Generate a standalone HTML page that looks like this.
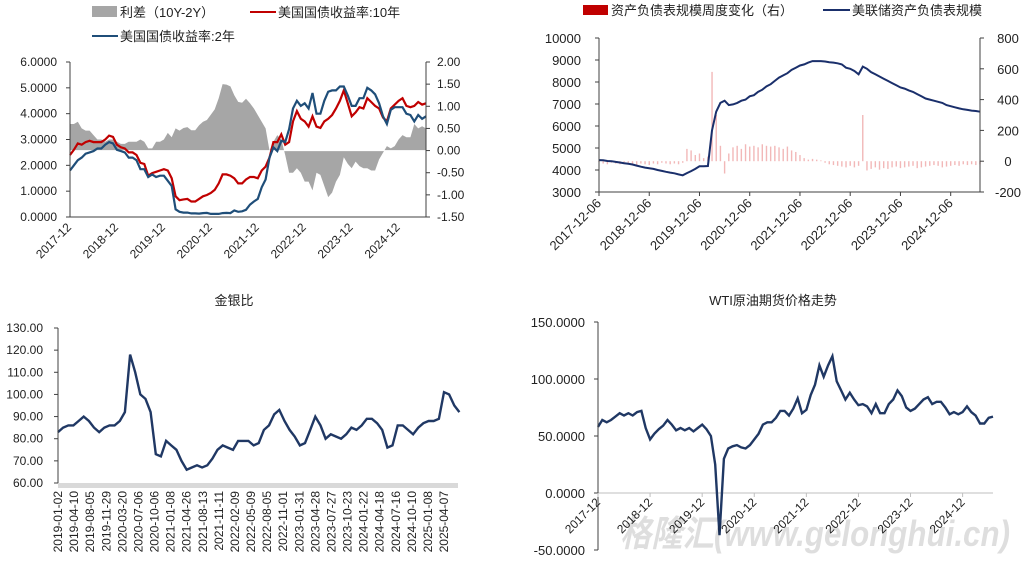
<!DOCTYPE html>
<html><head><meta charset="utf-8"><style>
html,body{margin:0;padding:0;background:#fff}
svg{display:block;font-family:"Liberation Sans","Noto Sans CJK SC",sans-serif}
</style></head><body>
<svg id="s" width="1027" height="563" viewBox="0 0 1027 563" xmlns="http://www.w3.org/2000/svg">
<g id="p1">
 <rect x="92" y="6" width="25" height="11" fill="#a6a6a6"/>
 <text x="120" y="17" font-size="13" fill="#222">利差（10Y-2Y）</text>
 <line x1="250" y1="12" x2="276" y2="12" stroke="#c00000" stroke-width="2"/>
 <text x="278" y="17" font-size="13" fill="#222">美国国债收益率:10年</text>
 <line x1="92" y1="36" x2="118" y2="36" stroke="#1f4e79" stroke-width="2"/>
 <text x="120" y="41" font-size="13" fill="#222">美国国债收益率:2年</text>
</g>
<g id="p2">
 <rect x="583" y="5" width="25" height="10" fill="#c00000"/>
 <text x="611" y="15" font-size="13" fill="#222">资产负债表规模周度变化（右）</text>
 <line x1="823" y1="10" x2="850" y2="10" stroke="#1a2f6b" stroke-width="2"/>
 <text x="852" y="15" font-size="13" fill="#222">美联储资产负债表规模</text>
</g>
<g id="p3">
 <text x="234" y="305" font-size="13" fill="#222" text-anchor="middle">金银比</text>
 <rect x="58" y="483" width="400" height="5" fill="#d9d9d9"/>
</g>
<g id="p4">
 <text x="773" y="305" font-size="13" fill="#222" text-anchor="middle">WTI原油期货价格走势</text>
</g>
<text x="620" y="546" font-size="36" font-weight="bold" font-style="italic" fill="#000" fill-opacity="0.13" textLength="390" lengthAdjust="spacingAndGlyphs">格隆汇(www.gelonghui.cn)</text>
</svg>
<script>
// ---- Panel 1 data (monthly, 2017-12 .. 2025-07)
const y10 = [2.4,2.6,2.85,2.8,2.9,2.95,2.9,2.9,2.9,3.0,3.15,3.1,2.8,2.7,2.65,2.5,2.5,2.4,2.1,2.05,1.6,1.7,1.75,1.8,1.85,1.8,1.5,0.8,0.65,0.68,0.7,0.6,0.6,0.7,0.8,0.85,0.93,1.05,1.3,1.65,1.65,1.6,1.5,1.3,1.3,1.45,1.55,1.55,1.5,1.8,1.95,2.3,2.9,2.9,3.2,2.8,2.9,3.7,4.1,3.8,3.7,3.5,3.9,3.5,3.45,3.7,3.8,3.95,4.2,4.5,4.9,4.4,3.9,4.05,4.25,4.2,4.6,4.45,4.3,4.2,3.85,3.7,4.2,4.35,4.5,4.6,4.3,4.25,4.3,4.45,4.35,4.4];
const y2 = [1.8,2.0,2.2,2.3,2.45,2.5,2.55,2.65,2.65,2.8,2.9,2.85,2.6,2.55,2.5,2.3,2.3,2.2,1.85,1.85,1.55,1.65,1.55,1.6,1.6,1.4,1.2,0.3,0.2,0.17,0.17,0.14,0.14,0.13,0.15,0.16,0.12,0.12,0.12,0.15,0.16,0.15,0.25,0.2,0.22,0.28,0.48,0.6,0.7,1.15,1.45,2.3,2.7,2.55,2.95,2.9,3.4,4.2,4.5,4.3,4.4,4.2,4.8,4.0,4.0,4.5,4.85,4.9,4.9,5.05,5.05,4.7,4.3,4.3,4.6,4.6,5.0,4.9,4.75,4.4,3.9,3.6,4.15,4.25,4.25,4.25,4.0,3.95,3.7,3.95,3.8,3.9];
const p1XTicks = ["2017-12","2018-12","2019-12","2020-12","2021-12","2022-12","2023-12","2024-12"];
const p1LeftTicks = ["0.0000","1.0000","2.0000","3.0000","4.0000","5.0000","6.0000"];
const p1RightTicks = ["-1.50","-1.00","-0.50","0.00","0.50","1.00","1.50","2.00"];
// ---- Panel 2 data (monthly, 2017-12 .. 2025-07)
const fedAssets = [4450,4440,4410,4400,4370,4340,4310,4280,4250,4200,4150,4110,4080,4050,4000,3960,3920,3880,3850,3800,3760,3860,3950,4050,4170,4170,4180,5800,6650,7050,7150,6950,6980,7050,7150,7200,7350,7400,7550,7650,7800,7900,8050,8200,8300,8400,8550,8650,8750,8800,8880,8950,8950,8950,8930,8900,8880,8850,8800,8650,8600,8500,8350,8700,8600,8450,8350,8250,8150,8050,7950,7850,7750,7700,7620,7550,7450,7350,7250,7200,7150,7100,7050,6950,6900,6850,6800,6760,6730,6700,6680,6650];
const fedChange = [-5,-15,-20,-10,-15,-20,-15,-10,-20,-25,-15,-20,-25,-15,-20,-10,-15,-20,-15,-20,-10,80,70,40,50,20,30,580,300,100,-80,50,90,100,80,110,95,100,90,110,100,95,100,90,80,95,70,60,40,20,10,15,10,5,-10,-20,-25,-30,-35,-40,-30,-40,-30,300,-60,-50,-40,-55,-45,-50,-40,-35,-45,-40,-35,-30,-45,-40,-35,-30,-25,-30,-40,-35,-30,-25,-30,-20,-25,-20,-25,-20];
const p2XTicks = ["2017-12-06","2018-12-06","2019-12-06","2020-12-06","2021-12-06","2022-12-06","2023-12-06","2024-12-06"];
const p2LeftTicks = ["3000","4000","5000","6000","7000","8000","9000","10000"];
const p2RightTicks = ["-200","0","200","400","600","800"];
// ---- Panel 3 data (monthly, 2019-01 .. 2025-07)
const gsRatio = [83,85,86,86,88,90,88,85,83,85,86,86,88,92,118,110,100,98,92,73,72,79,77,75,70,66,67,68,67,68,71,75,77,76,75,79,79,79,77,78,84,86,91,93,88,84,81,77,78,84,90,86,80,82,81,80,82,85,84,86,89,89,87,84,76,77,86,86,84,82,85,87,88,88,89,101,100,95,92];
const p3XTicks = ["2019-01-02","2019-04-10","2019-08-05","2019-11-29","2020-03-20","2020-07-06","2020-10-06","2021-01-08","2021-04-26","2021-08-13","2021-11-11","2022-02-09","2022-05-09","2022-08-05","2022-11-01","2023-01-31","2023-04-28","2023-07-27","2023-10-23","2024-01-22","2024-04-18","2024-07-16","2024-10-10","2025-01-08","2025-04-07"];
const p3YTicks = ["60.00","70.00","80.00","90.00","100.00","110.00","120.00","130.00"];
// ---- Panel 4 data (monthly, 2017-12 .. 2025-07)
const wti = [58,64,62,64,67,70,68,70,68,71,72,57,47,52,56,59,64,60,55,57,55,57,54,57,60,56,50,25,-37,30,39,41,42,40,39,42,47,52,60,62,62,66,72,72,68,74,83,70,73,86,95,112,102,112,120,98,90,82,88,82,77,78,76,70,78,70,70,78,82,90,85,75,72,74,78,82,84,78,80,80,75,69,71,69,71,76,71,68,61,61,66,67];
const p4XTicks = ["2017-12","2018-12","2019-12","2020-12","2021-12","2022-12","2023-12","2024-12"];
const p4YTicks = ["-50.0000","0.0000","50.0000","100.0000","150.0000"];

const NS="http://www.w3.org/2000/svg";
function mk(parent,tag,attrs){const e=document.createElementNS(NS,tag);for(const k in attrs)e.setAttribute(k,attrs[k]);parent.appendChild(e);return e;}
function lin(d0,d1,r0,r1){return v=>r0+(v-d0)/(d1-d0)*(r1-r0);}
function pathD(arr,xs,ys){return arr.map((v,i)=>(i?"L":"M")+xs(i).toFixed(1)+","+ys(v).toFixed(1)).join("");}
const AX="#404040", TX="#222";

// ===== Panel 1
(function(){
 const g=document.getElementById("p1");
 const xs=lin(0,91,70,426), yl=lin(0,6,217,62), yr=lin(-1.5,2,217,62);
 const spread=y10.map((v,i)=>v-y2[i]);
 let d="M"+xs(0)+","+yr(0);
 spread.forEach((v,i)=>{d+="L"+xs(i).toFixed(1)+","+yr(v).toFixed(1);});
 d+="L"+xs(91)+","+yr(0)+"Z";
 const a=mk(g,"path",{d:d,fill:"#a6a6a6"});
 
 
 const z=mk(g,"line",{x1:70,x2:426,y1:yr(0),y2:yr(0),stroke:"#fff","stroke-width":1});
 
 
 const l10=mk(g,"path",{d:pathD(y10,xs,yl),fill:"none",stroke:"#c00000","stroke-width":2.2});
 
 
 const l2=mk(g,"path",{d:pathD(y2,xs,yl),fill:"none",stroke:"#1f4e79","stroke-width":2.2});
 
 
 const ax=mk(g,"path",{d:"M70,62V217M426,62V217M70,217H426",stroke:AX,fill:"none","stroke-width":1});
 
 
 p1LeftTicks.forEach((t,i)=>{const y=yl(i);mk(g,"line",{x1:66,x2:70,y1:y,y2:y,stroke:AX});
  const e=mk(g,"text",{x:57,y:y+4,"font-size":12,"text-anchor":"end",fill:TX});e.textContent=t;
  
  });
 p1RightTicks.forEach((t,i)=>{const y=yr(-1.5+i*0.5);mk(g,"line",{x1:426,x2:430,y1:y,y2:y,stroke:AX});
  const e=mk(g,"text",{x:437,y:y+4,"font-size":12,fill:TX});e.textContent=t;
  
  });
 p1XTicks.forEach((t,i)=>{const x=xs(i*12);
  const e=mk(g,"text",{x:x+2,y:228,"font-size":12,"text-anchor":"end",fill:TX,transform:"rotate(-45 "+(x+2)+" 228)"});e.textContent=t;
  
  });
})();

// ===== Panel 2
(function(){
 const g=document.getElementById("p2");
 const xs=lin(0,91,599,980), yl=lin(3000,10000,192,38), yr=lin(-200,800,192,38);
 fedChange.forEach((v,i)=>{const x=xs(i);
  const b=mk(g,"rect",{x:x-0.7,y:Math.min(yr(v),yr(0)),width:1.4,height:Math.abs(yr(v)-yr(0)),fill:"#f2b8b8"});
  
  });
 const l=mk(g,"path",{d:pathD(fedAssets,xs,yl),fill:"none",stroke:"#1a2f6b","stroke-width":2});
 
 
 const ax=mk(g,"path",{d:"M599,38V192M980,38V192M599,192H980",stroke:AX,fill:"none"});
 
 
 p2LeftTicks.forEach((t,i)=>{const y=yl(3000+i*1000);mk(g,"line",{x1:595,x2:599,y1:y,y2:y,stroke:AX});
  const e=mk(g,"text",{x:581,y:y+5,"font-size":13,"text-anchor":"end",fill:TX});e.textContent=t;
  
  });
 p2RightTicks.forEach((t,i)=>{const y=yr(-200+i*200);mk(g,"line",{x1:980,x2:984,y1:y,y2:y,stroke:AX});
  const e=mk(g,"text",{x:1008,y:y+5,"font-size":13,"text-anchor":"middle",fill:TX});e.textContent=t;
  
  });
 p2XTicks.forEach((t,i)=>{const x=xs(i*12);mk(g,"line",{x1:x,x2:x,y1:192,y2:196,stroke:AX});
  const e=mk(g,"text",{x:x+3,y:204,"font-size":13,"text-anchor":"end",fill:TX,transform:"rotate(-45 "+(x+3)+" 204)"});e.textContent=t;
  
  });
})();

// ===== Panel 3
(function(){
 const g=document.getElementById("p3");
 const xs=lin(0,75,58,444), ys=lin(60,130,483,328);
 const l=mk(g,"path",{d:pathD(gsRatio,xs,ys),fill:"none",stroke:"#203864","stroke-width":2.4});
 
 
 const ax=mk(g,"path",{d:"M58,328V483",stroke:AX,fill:"none"});
 
 
 p3YTicks.forEach((t,i)=>{const y=ys(60+i*10);mk(g,"line",{x1:54,x2:58,y1:y,y2:y,stroke:AX});
  const e=mk(g,"text",{x:43,y:y+4,"font-size":12,"text-anchor":"end",fill:TX});e.textContent=t;
  
  });
 p3XTicks.forEach((t,i)=>{const x=58+i*(386/24)+4;
  const e=mk(g,"text",{x:x,y:491,"font-size":12,"text-anchor":"end",fill:TX,transform:"rotate(-90 "+x+" 491)"});e.textContent=t;
  
  });
})();

// ===== Panel 4
(function(){
 const g=document.getElementById("p4");
 const xs=lin(0,91,598,993), ys=lin(-50,150,550,322);
 const z=mk(g,"line",{x1:598,x2:993,y1:ys(0),y2:ys(0),stroke:"#bfbfbf"});
 
 
 const l=mk(g,"path",{d:pathD(wti,xs,ys),fill:"none",stroke:"#203864","stroke-width":2.4});
 
 
 const ax=mk(g,"path",{d:"M598,322V550",stroke:AX,fill:"none"});
 
 
 p4YTicks.forEach((t,i)=>{const y=ys(-50+i*50);mk(g,"line",{x1:594,x2:598,y1:y,y2:y,stroke:AX});
  const e=mk(g,"text",{x:585,y:y+5,"font-size":13,"text-anchor":"end",fill:TX});e.textContent=t;
  
  });
 p4XTicks.forEach((t,i)=>{const x=xs(i*12);mk(g,"line",{x1:x,x2:x,y1:ys(0),y2:ys(0)+4,stroke:"#bfbfbf"});
  const e=mk(g,"text",{x:x+3,y:ys(0)+10,"font-size":12,"text-anchor":"end",fill:TX,transform:"rotate(-45 "+(x+3)+" "+(ys(0)+10)+")"});e.textContent=t;
  
  });
})();
</script>
</body></html>
